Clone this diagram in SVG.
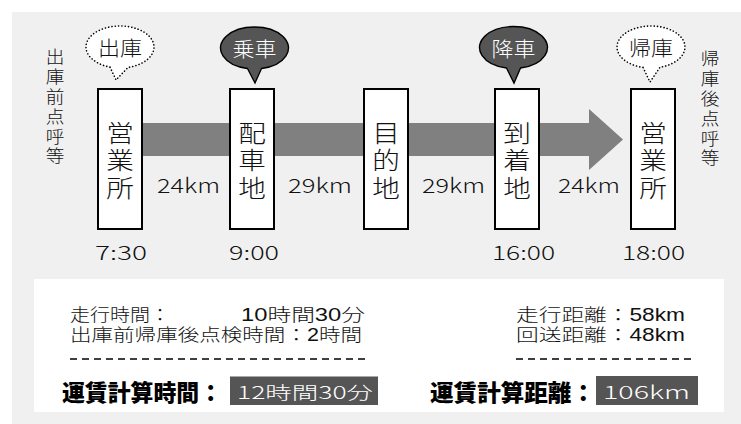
<svg xmlns="http://www.w3.org/2000/svg" width="741" height="424" viewBox="0 0 741 424">
<style>
.bx{fill:#fff;stroke:#000;stroke-width:2}
.jp{font-family:"Noto Sans CJK JP","Liberation Sans",sans-serif;fill:#111;font-weight:300}
.stk{font-family:"Liberation Sans","Noto Sans CJK JP",sans-serif;fill:#111;font-weight:300}
.big{font-size:24px;text-anchor:middle}
.side{font-size:17px;text-anchor:middle}
.km{font-size:20px;text-anchor:start}
.tm{font-size:19px;text-anchor:start}
.sm{font-size:17.5px}
.bold{font-size:23px;font-weight:900;fill:#000}
.wt{fill:#fff}
.dots{fill:#fff;stroke:#000;stroke-width:1.6;stroke-dasharray:0.1 3.2;stroke-linecap:round}
.dark{fill:#555;stroke:#000;stroke-width:1.4}
.dash{stroke:#000;stroke-width:1.6;stroke-dasharray:7 5;fill:none}
</style>
<rect x="12" y="12" width="729" height="412" fill="#f0f0f0"/>
<rect x="34" y="279" width="690" height="133" fill="#fff"/>

<g id="connectors">
<rect x="140" y="123" width="452" height="33" fill="#808080"/>
<polygon points="589,109 623,139.5 589,170" fill="#808080"/>
</g>

<g id="side-left">
<text class="stk side" transform="translate(55,0) scale(1.1,1)"><tspan x="0" y="63">出</tspan><tspan x="0" y="83">庫</tspan><tspan x="0" y="103">前</tspan><tspan x="0" y="123">点</tspan><tspan x="0" y="143">呼</tspan><tspan x="0" y="162">等</tspan></text>
</g>
<g id="side-right">
<text class="stk side" transform="translate(710,0) scale(1.1,1)"><tspan x="0" y="65">帰</tspan><tspan x="0" y="85">庫</tspan><tspan x="0" y="105">後</tspan><tspan x="0" y="125">点</tspan><tspan x="0" y="145">呼</tspan><tspan x="0" y="164">等</tspan></text>
</g>

<g id="bubble-shukko">
<path class="dots" d="M110,67.07 A34,21 0 1 1 128,67.41 L116,80 Z"/>
<text class="jp" font-size="20" text-anchor="middle" transform="translate(120,56) scale(1.1,1)">出庫</text>
</g>
<g id="bubble-josha">
<path class="dark" d="M247.5,68.55 A34,21 0 1 1 261.5,68.55 L255,83 Z"/>
<text class="jp wt" font-size="20" text-anchor="middle" transform="translate(254.5,57) scale(1.1,1)">乗車</text>
</g>
<g id="bubble-kosha">
<path class="dark" d="M506.5,68.05 A34,21 0 1 1 520.5,68.05 L514,83 Z"/>
<text class="jp wt" font-size="20" text-anchor="middle" transform="translate(513.5,56.5) scale(1.1,1)">降車</text>
</g>
<g id="bubble-kiko">
<path class="dots" d="M643,67.41 A34,21 0 1 1 660,67.25 L650,82 Z"/>
<text class="jp" font-size="20" text-anchor="middle" transform="translate(651,56) scale(1.1,1)">帰庫</text>
</g>

<g id="node-eigyosho1">
<rect class="bx" x="98" y="89" width="44" height="140"/>
<text class="stk big" transform="translate(120,0) scale(1.15,1)"><tspan x="0" y="142">営</tspan><tspan x="0" y="169">業</tspan><tspan x="0" y="197">所</tspan></text>
</g>
<g id="node-haishachi">
<rect class="bx" x="230" y="89" width="44" height="140"/>
<text class="stk big" transform="translate(252,0) scale(1.15,1)"><tspan x="0" y="142">配</tspan><tspan x="0" y="169">車</tspan><tspan x="0" y="197">地</tspan></text>
</g>
<g id="node-mokutekichi">
<rect class="bx" x="364" y="89" width="44" height="140"/>
<text class="stk big" transform="translate(386,0) scale(1.15,1)"><tspan x="0" y="142">目</tspan><tspan x="0" y="169">的</tspan><tspan x="0" y="197">地</tspan></text>
</g>
<g id="node-tochakuchi">
<rect class="bx" x="495" y="89" width="44" height="140"/>
<text class="stk big" transform="translate(517,0) scale(1.15,1)"><tspan x="0" y="142">到</tspan><tspan x="0" y="169">着</tspan><tspan x="0" y="197">地</tspan></text>
</g>
<g id="node-eigyosho2">
<rect class="bx" x="631" y="89" width="44" height="140"/>
<text class="stk big" transform="translate(653,0) scale(1.15,1)"><tspan x="0" y="142">営</tspan><tspan x="0" y="169">業</tspan><tspan x="0" y="197">所</tspan></text>
</g>

<g id="distances">
<text class="jp km" x="157" y="193" textLength="63" lengthAdjust="spacingAndGlyphs">24km</text>
<text class="jp km" x="288" y="193" textLength="64" lengthAdjust="spacingAndGlyphs">29km</text>
<text class="jp km" x="422" y="193" textLength="63" lengthAdjust="spacingAndGlyphs">29km</text>
<text class="jp km" x="558" y="193" textLength="62" lengthAdjust="spacingAndGlyphs">24km</text>
</g>

<g id="times">
<text class="jp tm" x="95" y="260" textLength="52" lengthAdjust="spacingAndGlyphs">7:30</text>
<text class="jp tm" x="229" y="260" textLength="50" lengthAdjust="spacingAndGlyphs">9:00</text>
<text class="jp tm" x="492" y="260" textLength="63" lengthAdjust="spacingAndGlyphs">16:00</text>
<text class="jp tm" x="622" y="260" textLength="63" lengthAdjust="spacingAndGlyphs">18:00</text>
</g>

<g id="summary-time">
<text class="stk sm" x="70" y="321" textLength="100" lengthAdjust="spacingAndGlyphs">走行時間：</text>
<text class="stk sm" x="241" y="321" textLength="124" lengthAdjust="spacingAndGlyphs">10時間30分</text>
<text class="stk sm" x="70" y="341" textLength="292" lengthAdjust="spacingAndGlyphs">出庫前帰庫後点検時間：2時間</text>
<line class="dash" x1="70" y1="359" x2="368" y2="359"/>
<text class="jp bold" x="62" y="401" textLength="160" lengthAdjust="spacingAndGlyphs">運賃計算時間：</text>
<rect x="230" y="376.5" width="148" height="28.5" fill="#555"/>
<text class="jp sm wt" x="237" y="399" font-size="20" textLength="136" lengthAdjust="spacingAndGlyphs">12時間30分</text>
</g>

<g id="summary-distance">
<text class="stk sm" x="516" y="321" textLength="169" lengthAdjust="spacingAndGlyphs">走行距離：58km</text>
<text class="stk sm" x="516" y="341" textLength="169" lengthAdjust="spacingAndGlyphs">回送距離：48km</text>
<line class="dash" x1="516" y1="359" x2="692" y2="359"/>
<text class="jp bold" x="430" y="401" textLength="165" lengthAdjust="spacingAndGlyphs">運賃計算距離：</text>
<rect x="596" y="376" width="102" height="29" fill="#555"/>
<text class="jp sm wt" x="603" y="399" font-size="20" textLength="87" lengthAdjust="spacingAndGlyphs">106km</text>
</g>
</svg>
